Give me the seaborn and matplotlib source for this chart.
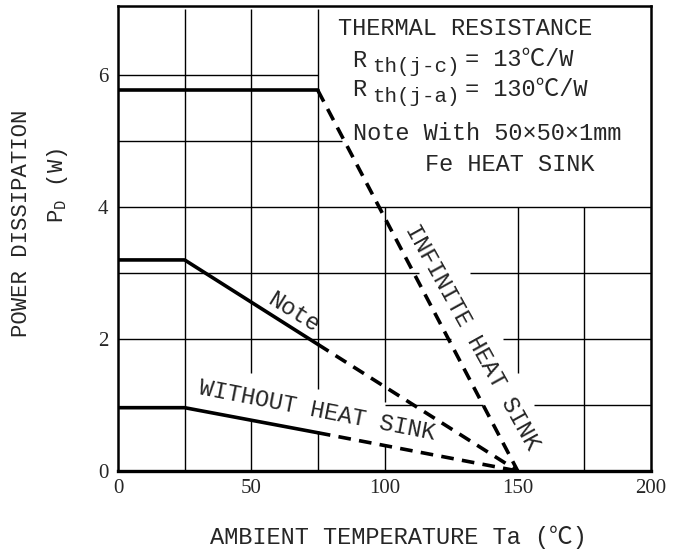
import matplotlib
matplotlib.use("Agg")
import matplotlib.pyplot as plt
import seaborn as sns
import pandas as pd

# ---------------- data ----------------
curve_names = ["INFINITE HEAT SINK", "Note", "WITHOUT HEAT SINK"]
inf_temp = [0, 75, 150]
inf_pd = [5.77, 5.77, 0.0]
note_temp = [0, 25, 75, 150]
note_pd = [3.2, 3.2, 1.92, 0.0]
none_temp = [0, 25, 75, 150]
none_pd = [0.96, 0.96, 0.58, 0.0]
solid_limit = 75          # curves are solid up to 75 degC, dashed beyond
x_ticks = [0, 50, 100, 150, 200]
y_ticks = [0, 2, 4, 6]

# ---------------- style ----------------
sns.set_theme(style="white")
plt.rcParams["font.family"] = ["Liberation Mono", "Noto Sans CJK JP", "DejaVu Sans"]
plt.rcParams["mathtext.fontset"] = "custom"
plt.rcParams["mathtext.rm"] = "Liberation Mono"

rows = []
for name, tx, py in zip(curve_names, [inf_temp, note_temp, none_temp], [inf_pd, note_pd, none_pd]):
    for t, p in zip(tx, py):
        if t <= solid_limit:
            rows.append(dict(curve=name, part="solid", seg=name + "-s", T=t, P=p))
        if t >= solid_limit:
            rows.append(dict(curve=name, part="dashed", seg=name + "-d", T=t, P=p))
df = pd.DataFrame(rows)

fig = plt.figure(figsize=(6.87, 5.54), dpi=100)
ax = fig.add_axes([118 / 687, 1 - 471 / 554, 533 / 687, 465 / 554])

# hand-drawn style grid (with gaps around the labels and the text box)
gcol, glw = "black", 1.0
hsegs = [(1, 100, 137), (1, 156, 200), (2, 0, 125), (2, 144.5, 200), (3, 0, 113),
         (3, 132, 200), (4, 0, 200), (5, 0, 84), (6, 0, 75)]
vsegs = [(25, 0, 7), (50, 0, 0.76), (50, 1.48, 7), (75, 0, 0.58), (75, 1.25, 7),
         (100, 0, 0.38), (100, 1.05, 4), (150, 1.48, 4), (175, 0, 4)]
for y, x0, x1 in hsegs:
    ax.hlines(y, x0, x1, color=gcol, lw=glw, zorder=1)
for x, y0, y1 in vsegs:
    ax.vlines(x, y0, y1, color=gcol, lw=glw, zorder=1)

sns.lineplot(data=df, x="T", y="P", units="seg", estimator=None, style="part",
             dashes={"solid": "", "dashed": (3.5, 2.3)}, color="black",
             linewidth=2.6, sort=False, legend=False, ax=ax, zorder=3)

ax.set_xlim(0, 200)
ax.set_ylim(0, 7.05)
ax.set_xticks(x_ticks)
ax.set_yticks(y_ticks)
ax.set_xticklabels([str(v) for v in x_ticks], family="Liberation Serif", fontsize=15)
ax.set_yticklabels([str(v) for v in y_ticks], family="Liberation Serif", fontsize=15)
ax.tick_params(axis="both", length=0)
ax.tick_params(axis="x", pad=6)
ax.tick_params(axis="y", pad=7)
ax.set_xlabel("")
ax.set_ylabel("")
for s in ax.spines.values():
    s.set_visible(True)
    s.set_color("black")
    s.set_linewidth(1.8)
ax.spines["bottom"].set_linewidth(2.4)

# curve labels
ax.text(132.8, 2.03, "INFINITE HEAT SINK", rotation=-61, rotation_mode="anchor",
        ha="center", va="center", fontsize=17)
ax.text(65.7, 2.41, "Note", rotation=-32, rotation_mode="anchor",
        ha="center", va="center", fontsize=17)
ax.text(74.7, 0.92, "WITHOUT HEAT SINK", rotation=-11, rotation_mode="anchor",
        ha="center", va="center", fontsize=17)

# thermal resistance box text
ax.text(82.5, 6.71, "THERMAL RESISTANCE", ha="left", va="center", fontsize=17)
ax.text(87.8, 6.23, "R", ha="left", va="center", fontsize=17)
ax.text(95.3, 6.13, "th(j-c)", ha="left", va="center", fontsize=15)
ax.text(130.2, 6.24, "= 13℃/W", ha="left", va="center", fontsize=17)
ax.text(87.8, 5.78, "R", ha="left", va="center", fontsize=17)
ax.text(95.3, 5.68, "th(j-a)", ha="left", va="center", fontsize=15)
ax.text(130.2, 5.79, "= 130℃/W", ha="left", va="center", fontsize=17)
ax.text(88.2, 5.12, "Note With 50×50×1mm", ha="left", va="center", fontsize=17)
ax.text(115.2, 4.64, "Fe HEAT SINK", ha="left", va="center", fontsize=17)

# axis titles
fig.text(22 / 687, 1 - 223 / 554, "POWER DISSIPATION", rotation=90,
         ha="center", va="center", fontsize=16)
fig.text(58 / 687, 1 - 185 / 554, r"P$_{\rm D}$ (W)", rotation=90,
         ha="center", va="center", fontsize=16)
fig.text(398 / 687, 1 - 537 / 554, "AMBIENT TEMPERATURE Ta (℃)",
         ha="center", va="center", fontsize=17)

fig.savefig("out.png", dpi=100)
